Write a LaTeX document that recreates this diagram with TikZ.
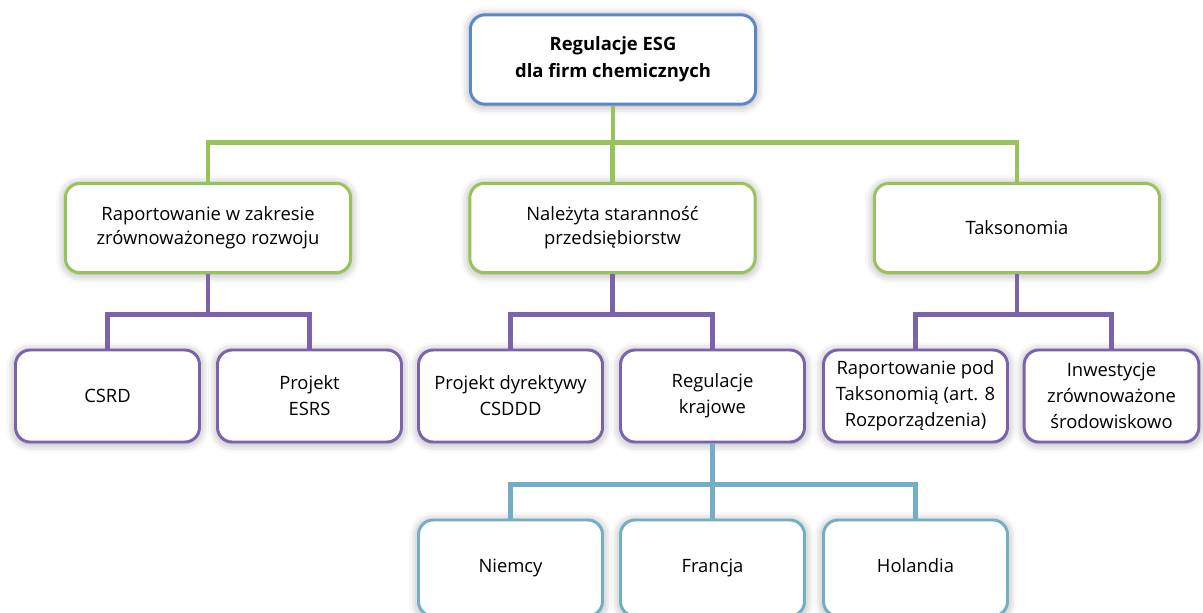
\documentclass[tikz,border=0pt]{standalone}
\usepackage{fontspec}
\setmainfont{Open Sans}
\usetikzlibrary{
  positioning,
  shadows.blur,  % Soft shadow below the boxes
}
\definecolor{esgblue}{HTML}{5B87C6}
\definecolor{esggreen}{HTML}{96C459}
\definecolor{esgpurple}{HTML}{7A63AA}
\definecolor{esgteal}{HTML}{73AEC6}
\tikzset{
  font=\fontsize{13.8}{18}\selectfont,
  my box/.style={
    draw,
    fill=white,
    line width=2.2pt,
    rounded corners=11pt,
    align=center,
    inner sep=1pt,
    blur shadow={shadow xshift=0pt,shadow yshift=-1pt,
      shadow blur radius=7pt,shadow opacity=40}
  },
  my root/.style={
    my box,
    draw=esgblue,
    minimum width=214pt,
    minimum height=67pt,
    font=\fontsize{13.8}{20}\selectfont\bfseries
  },
  my topic/.style={
    my box,
    draw=esggreen,
    minimum width=214pt,
    minimum height=67pt
  },
  my item/.style={
    my box,
    draw=esgpurple,
    minimum width=138pt,
    minimum height=69pt,
    font=\fontsize{13.8}{19.5}\selectfont
  },
  my country/.style={
    my box,
    draw=esgteal,
    minimum width=138pt,
    minimum height=72pt,
    text height=1.5ex,
    text depth=0.3ex
  },
  link/.style={
    line width=3.6pt
  },
}
\begin{document}
\begin{tikzpicture}[x=0.75pt,y=-0.75pt]
\useasboundingbox (0,0) rectangle (1203,612);

% level 0 and 1
\node[my root]  (esg) at (613,59.5) {Regulacje ESG\\dla firm chemicznych};
\node[my topic] (rap) at (208,228)   {Raportowanie w zakresie\\zrównoważonego rozwoju};
\node[my topic] (nal) at (612.5,228) {Należyta staranność\\przedsiębiorstw};
\node[my topic] (tax) at (1017,228)  {Taksonomia};

% level 2
\node[my item] (csrd) at (107.5,396)  {CSRD};
\node[my item] (esrs) at (309.5,396)  {Projekt\\ESRS};
\node[my item] (csddd) at (510.5,396) {Projekt dyrektywy\\CSDDD};
\node[my item] (kraj) at (712.5,396)  {Regulacje\\krajowe};
\node[my item] (art8) at (915.5,396)  {Raportowanie pod\\Taksonomią (art. 8\\Rozporządzenia)};
\node[my item,minimum width=131pt] (inw) at (1111.5,396) {Inwestycje\\zrównoważone\\środowiskowo};

% level 3
\node[my country] (de) at (510.5,568) {Niemcy};
\node[my country] (fr) at (712.5,568) {Francja};
\node[my country] (nl) at (915.5,568) {Holandia};

% connectors
\foreach \x in {rap,nal,tax}
  \draw[link,esggreen] (esg.south) -- ++(0,37) -| (\x.north);
\foreach \x in {csrd,esrs}
  \draw[link,esgpurple] (rap.south) -- ++(0,40) -| (\x.north);
\foreach \x in {csddd,kraj}
  \draw[link,esgpurple] (nal.south) -- ++(0,40) -| (\x.north);
\foreach \x in {art8,inw}
  \draw[link,esgpurple] (tax.south) -- ++(0,40) -| (\x.north);
\foreach \x in {de,fr,nl}
  \draw[link,esgteal] (kraj.south) -- ++(0,41) -| (\x.north);
\end{tikzpicture}
\end{document}
